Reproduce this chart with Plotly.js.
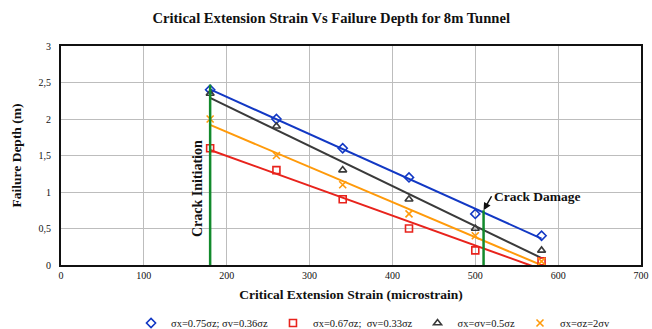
<!DOCTYPE html>
<html><head><meta charset="utf-8">
<script src="https://cdn.plot.ly/plotly-3.0.1.min.js"></script>
<style>html,body{margin:0;padding:0;background:#fff}#chart{width:652px;height:329px}</style>
</head><body><div id="chart"></div>
<script>
const strain = [180, 260, 340, 420, 500, 580];
const seriesNames = ['σx=0.75σz; σv=0.36σz', 'σx=0.67σz;  σv=0.33σz', 'σx=σv=0.5σz', 'σx=σz=2σv'];
const depthA = [2.4, 2.0, 1.6, 1.2, 0.7, 0.4];
const depthB = [1.6, 1.3, 0.9, 0.5, 0.2, 0.05];
const depthC = [2.35, 1.9, 1.3, 0.9, 0.5, 0.2];
const depthD = [2.0, 1.5, 1.1, 0.7, 0.4, 0.05];
const crackInitiation = [180, 2.47];
const crackDamage = [510, 0.75];
const xTicks = [0, 100, 200, 300, 400, 500, 600, 700];
const yTicks = [0, 0.5, 1, 1.5, 2, 2.5, 3];

const colors = ['#1238c4', '#e8231c', '#3a3a3a', '#ff9a0a'];
const symbols = ['diamond-open', 'square-open', 'triangle-up-open', 'x-thin-open'];
const series = [depthA, depthB, depthC, depthD];
const serif = 'Liberation Serif, DejaVu Serif, serif';

function fit(xs, ys) {
  const n = xs.length;
  const mx = xs.reduce((a, b) => a + b, 0) / n;
  const my = ys.reduce((a, b) => a + b, 0) / n;
  let sxy = 0, sxx = 0;
  for (let i = 0; i < n; i++) { sxy += (xs[i] - mx) * (ys[i] - my); sxx += (xs[i] - mx) ** 2; }
  const m = sxy / sxx;
  return x => my + m * (x - mx);
}

const traces = [];
series.forEach((ys, i) => {
  const f = fit(strain, ys);
  const x0 = strain[0], x1 = strain[strain.length - 1];
  traces.push({x: [x0, x1], y: [f(x0), f(x1)], mode: 'lines', line: {color: colors[i], width: 2}, showlegend: false, hoverinfo: 'skip'});
});
series.forEach((ys, i) => {
  traces.push({x: strain, y: ys, mode: 'markers', name: seriesNames[i],
    marker: {symbol: symbols[i], size: 7, color: colors[i], line: {color: colors[i], width: 1.6}}});
});
traces.push({x: [crackInitiation[0], crackInitiation[0]], y: [0, crackInitiation[1]], mode: 'lines', line: {color: '#128a2c', width: 2.5}, showlegend: false});
traces.push({x: [crackDamage[0], crackDamage[0]], y: [0, crackDamage[1]], mode: 'lines', line: {color: '#128a2c', width: 2.5}, showlegend: false});

const layout = {
  width: 652, height: 329,
  margin: {l: 61, r: 11, t: 46, b: 64, autoexpand: false},
  paper_bgcolor: '#fff', plot_bgcolor: '#fff',
  separators: ', ',
  font: {family: serif, color: '#111', size: 10},
  title: {text: '<b>Critical Extension Strain Vs Failure Depth for 8m Tunnel</b>', x: 0.508, xanchor: 'center', y: 0.945, yanchor: 'middle', font: {family: serif, size: 14.6, color: '#111'}},
  xaxis: {range: [0, 700], tickvals: xTicks, showgrid: true, gridcolor: '#bdbdbd', gridwidth: 1, zeroline: false, automargin: false,
    showline: true, linecolor: '#111', linewidth: 2, mirror: true, ticks: '', tickfont: {family: serif, size: 10, color: '#111'},
    title: {text: '<b>Critical Extension Strain (microstrain)</b>', standoff: 10, font: {family: serif, size: 13.5, color: '#111'}}},
  yaxis: {range: [0, 3], tickvals: yTicks, showgrid: true, gridcolor: '#bdbdbd', gridwidth: 1, zeroline: false, automargin: false,
    showline: true, linecolor: '#111', linewidth: 2, mirror: true, ticks: '', ticklabelstandoff: 6, tickfont: {family: serif, size: 10, color: '#111'},
    title: {text: '<b>Failure Depth (m)</b>', standoff: 14, font: {family: serif, size: 13.5, color: '#111'}}},
  showlegend: true,
  legend: {orientation: 'h', x: 0.538, xanchor: 'center', y: -0.265, yanchor: 'middle', font: {family: serif, size: 10.5, color: '#111'}, itemwidth: 30, tracegroupgap: 0},
  annotations: [
    {x: 165, y: 1.05, xref: 'x', yref: 'y', textangle: -90, showarrow: false, text: '<b>Crack Initiation</b>', font: {family: serif, size: 14, color: '#111'}},
    {x: crackDamage[0], y: crackDamage[1], xref: 'x', yref: 'y', ax: 8, ay: -14, axref: 'pixel', ayref: 'pixel', showarrow: true, arrowhead: 2, arrowsize: 1, arrowwidth: 1.5, arrowcolor: '#111',
      text: '<b>Crack Damage</b>', xanchor: 'left', yanchor: 'middle', font: {family: serif, size: 13.5, color: '#111'}}
  ]
};
Plotly.newPlot('chart', traces, layout, {displayModeBar: false, staticPlot: true});
</script></body></html>
